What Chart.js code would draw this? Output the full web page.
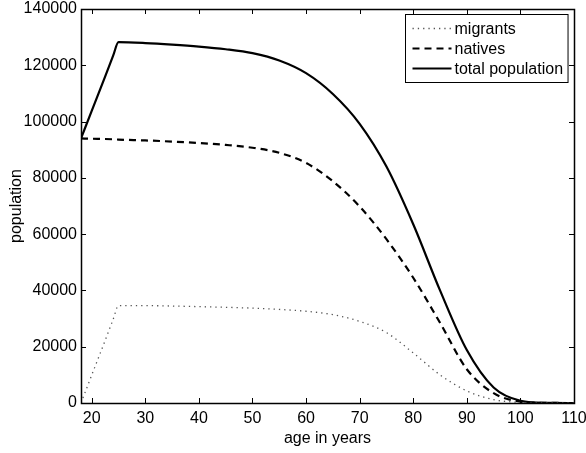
<!DOCTYPE html>
<html>
<head>
<meta charset="utf-8">
<script src="https://cdn.jsdelivr.net/npm/chart.js@4.4.1/dist/chart.umd.min.js"></script>
<style>
  html, body { margin: 0; padding: 0; background: #fff; }
  #wrap { width: 586px; height: 453px; }
</style>
</head>
<body>
<div id="wrap"><canvas id="popChart" width="586" height="453"></canvas></div>
<script>
// age grid and population per age
const ages     = [18, 20, 22.5, 24, 25, 30, 35, 40, 45, 50, 55, 60, 65, 70, 75, 80, 85, 90, 95, 100, 105, 110];
const migrants = [0, 9900, 22200, 29700, 34600, 34600, 34450, 34250, 34000, 33700, 33250, 32600, 31400, 29000, 25000, 17800, 10000, 4300, 1200, 200, 0, 0];
const natives  = [94000, 93900, 93800, 93700, 93600, 93300, 92900, 92400, 91700, 90700, 88900, 85300, 78800, 69800, 58200, 44500, 28500, 12000, 3500, 500, 50, 0];
const total    = [94000, 103800, 116000, 123400, 128200, 127900, 127350, 126650, 125700, 124300, 121700, 117200, 109800, 99200, 84000, 63500, 40000, 18800, 5500, 800, 50, 0];

const seriesNames = ['migrants', 'natives', 'total population'];
const xTicks = [20, 30, 40, 50, 60, 70, 80, 90, 100, 110];
const yTicks = [0, 20000, 40000, 60000, 80000, 100000, 120000, 140000];

const FONT = 'Liberation Sans, Arial, Helvetica, sans-serif';
const toPoints = vals => ages.map((a, i) => ({ x: a, y: vals[i] }));

// box, inward ticks on all four sides and the legend
const framePlugin = {
  id: 'frame',
  afterDraw(chart) {
    const { ctx, chartArea: a, scales: { x, y } } = chart;
    const tl = 5;
    ctx.save();
    ctx.strokeStyle = '#000';
    ctx.lineWidth = 1;
    ctx.beginPath();
    xTicks.forEach(v => {
      const px = Math.round(x.getPixelForValue(v)) + 0.5;
      ctx.moveTo(px, a.bottom); ctx.lineTo(px, a.bottom - tl);
      ctx.moveTo(px, a.top); ctx.lineTo(px, a.top + tl);
    });
    yTicks.forEach(v => {
      const py = Math.round(y.getPixelForValue(v)) + 0.5;
      ctx.moveTo(a.left, py); ctx.lineTo(a.left + tl, py);
      ctx.moveTo(a.right, py); ctx.lineTo(a.right - tl, py);
    });
    ctx.stroke();
    ctx.lineWidth = 1.5;
    ctx.strokeRect(Math.round(a.left) + 0.5, Math.round(a.top) + 0.5,
      Math.round(a.right - a.left), Math.round(a.bottom - a.top));

    // legend
    ctx.font = '16px ' + FONT;
    const textW = Math.max(...seriesNames.map(n => ctx.measureText(n).width));
    const sampleW = 39, rowH = 20;
    const lw = 7 + sampleW + 3 + textW + 5;
    const lh = rowH * seriesNames.length + 8;
    const lx = Math.round(a.right - 6 - lw) + 0.5;
    const ly = Math.round(a.top + 5) + 0.5;
    ctx.fillStyle = '#fff';
    ctx.fillRect(lx, ly, lw, lh);
    ctx.lineWidth = 1;
    ctx.strokeStyle = '#000';
    ctx.strokeRect(lx, ly, lw, lh);
    chart.data.datasets.forEach((ds, i) => {
      const cy = ly + 4 + rowH * i + rowH / 2;
      ctx.beginPath();
      ctx.setLineDash(ds.borderDash || []);
      ctx.strokeStyle = ds.borderColor;
      ctx.lineWidth = ds.borderWidth;
      ctx.moveTo(lx + 7, cy);
      ctx.lineTo(lx + 7 + sampleW, cy);
      ctx.stroke();
      ctx.setLineDash([]);
      ctx.fillStyle = '#000';
      ctx.textAlign = 'left';
      ctx.textBaseline = 'middle';
      ctx.fillText(ds.label, lx + 7 + sampleW + 3, cy + 1);
    });
    ctx.restore();
  }
};

new Chart(document.getElementById('popChart'), {
  type: 'line',
  data: {
    datasets: [
      {
        label: seriesNames[0],
        data: toPoints(migrants),
        borderColor: '#555',
        borderWidth: 1.3,
        borderDash: [1.3, 4],
        pointRadius: 0,
        cubicInterpolationMode: 'monotone'
      },
      {
        label: seriesNames[1],
        data: toPoints(natives),
        borderColor: '#000',
        borderWidth: 2.2,
        borderDash: [7, 5],
        pointRadius: 0,
        cubicInterpolationMode: 'monotone'
      },
      {
        label: seriesNames[2],
        data: toPoints(total),
        borderColor: '#000',
        borderWidth: 2.2,
        pointRadius: 0,
        cubicInterpolationMode: 'monotone'
      }
    ]
  },
  options: {
    responsive: false,
    animation: false,
    devicePixelRatio: 1,
    layout: { padding: { top: 9, right: 12, left: 0, bottom: 0 } },
    plugins: {
      legend: { display: false },
      tooltip: { enabled: false }
    },
    scales: {
      x: {
        type: 'linear',
        min: 18,
        max: 110,
        grid: { display: false, drawTicks: false },
        border: { display: false },
        afterBuildTicks: s => { s.ticks = xTicks.map(v => ({ value: v })); },
        afterFit: s => { s.height = 50; s.paddingLeft = 0; s.paddingRight = 0; },
        ticks: {
          color: '#000',
          padding: 6,
          maxRotation: 0,
          autoSkip: false,
          font: { family: FONT, size: 16 },
          callback: v => String(v)
        },
        title: {
          display: true,
          text: 'age in years',
          color: '#000',
          font: { family: FONT, size: 16 },
          padding: { top: 0, bottom: 5 }
        }
      },
      y: {
        min: 0,
        max: 140000,
        grid: { display: false, drawTicks: false },
        border: { display: false },
        afterBuildTicks: s => { s.ticks = yTicks.map(v => ({ value: v })); },
        afterFit: s => { s.width = 81; s.paddingTop = 0; s.paddingBottom = 0; },
        ticks: {
          color: '#000',
          padding: 4,
          autoSkip: false,
          font: { family: FONT, size: 16 },
          callback: v => String(v)
        },
        title: {
          display: true,
          text: 'population',
          color: '#000',
          font: { family: FONT, size: 16 },
          padding: { top: 7, bottom: 0 }
        }
      }
    }
  },
  plugins: [framePlugin]
});
</script>
</body>
</html>
